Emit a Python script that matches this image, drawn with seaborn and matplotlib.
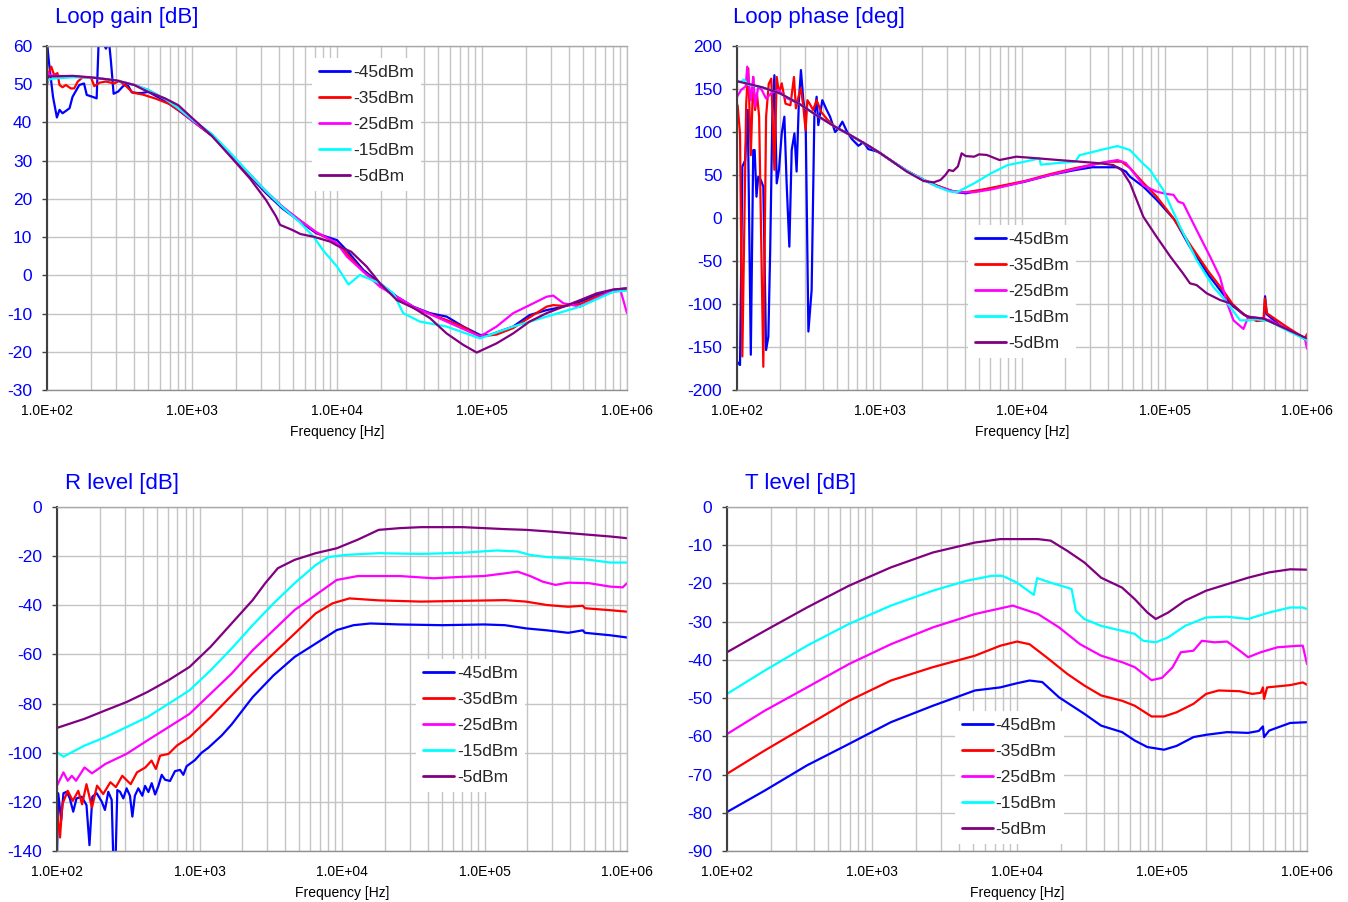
import numpy as np
import matplotlib
matplotlib.use("Agg")
import matplotlib.pyplot as plt
import seaborn as sns
from matplotlib.ticker import FixedLocator, FuncFormatter, LogLocator, NullFormatter

# ---------------- data ----------------
series_labels = ['-45dBm', '-35dBm', '-25dBm', '-15dBm', '-5dBm']
series_colors = ['#0000FF', '#FF0000', '#FF00FF', '#00FFFF', '#800080']
decade_ticks = [1e2, 1e3, 1e4, 1e5, 1e6]

# Loop gain [dB]
gain_f_45 = [100, 103, 110, 117, 122, 128, 143, 150, 167, 180, 188, 206, 220, 227, 242, 255, 268, 276, 288, 310,
             333, 355, 384, 420, 450, 500, 660, 805, 1000, 1370, 1900, 2500, 3240, 4200, 5500, 7200, 10000, 11700,
             15200, 19800, 25900, 33600, 43800, 57000, 74300, 97000, 113000, 164000, 213000, 279000, 364000, 474000,
             620000, 805000, 1000000]
gain_v_45 = [61, 56, 46.7, 41.3, 43.3, 42.4, 43.7, 46.7, 49.8, 50.2, 47.2, 46.7, 46.3, 61, 61, 59.3, 61, 56, 47.5, 48.1,
             49.4, 50.2, 47.9, 47.7, 47.7, 48.0, 45.5, 43.2, 40.5, 36.5, 31, 26, 21.5, 17.5, 14.2, 11.0, 9.2, 6.5,
             1.4, -2.1, -5.6, -8.2, -9.9, -10.8, -13.4, -15.6, -15.6, -13.4, -10.4, -9.1, -8.2, -6.9,
             -5.1, -3.8, -3.4]
gain_f_35 = [100, 103, 107, 112, 118, 122, 128, 135, 146, 154, 163, 176, 201, 212, 230, 255, 291, 315, 351, 390,
             457, 565, 700, 860, 1000, 1370, 1900, 2500, 3240, 4200, 5500, 7200, 10000, 15200, 19800, 25900, 33600,
             57000, 74300, 97000, 126000, 164000, 213000, 279000, 310000, 364000, 474000, 620000, 805000, 1000000]
gain_v_35 = [49.8, 52.9, 54.6, 52.4, 52.9, 49.8, 49.2, 49.8, 48.9, 48.9, 50.7, 51.8, 51.8, 49.5, 50.4, 50.7, 50.2,
             50.9, 49.5, 47.8, 47.3, 46.2, 44.8, 42.5, 40.5, 36.6, 31.2, 26.3, 21.8, 17.8, 14.5, 11.2, 8.4, 1.0, -2.5,
             -6.0, -8.5, -11.7, -13.5, -16.0, -15.5, -13.8, -11.0, -8.2, -7.8, -8.0, -7.5, -5.5, -4.3, -3.5]
gain_f_25 = [100, 105, 150, 200, 300, 400, 500, 660, 805, 1000, 1370, 1900, 2500, 3240, 4200, 5500, 7200, 10000,
             11700, 19800, 33600, 57000, 97000, 126000, 164000, 213000, 279000, 310000, 364000, 474000, 620000,
             805000, 900000, 1000000]
gain_v_25 = [53.5, 52.3, 52.0, 51.8, 51.0, 49.8, 48.5, 46.0, 43.7, 40.5, 36.7, 31.2, 26.5, 22.0, 18.0, 14.5, 11.3, 8.4,
             4.9, -3.0, -8.2, -12.1, -16.0, -13.4, -9.9, -7.8, -5.6, -5.3, -7.3, -8.2, -6.0, -3.8, -3.8, -9.9]
gain_f_15 = [100, 110, 150, 200, 300, 400, 500, 660, 805, 1000, 1370, 1900, 2500, 3240, 4200, 5500, 6900, 8000,
             10000, 12000, 14400, 19800, 24500, 28600, 37300, 57000, 97000, 164000, 279000, 474000, 805000, 1000000]
gain_v_15 = [51.0, 51.5, 51.8, 51.8, 51.0, 49.8, 48.5, 46.0, 43.7, 40.8, 37.0, 31.5, 26.5, 22.0, 17.8, 14.0, 10.1, 6.6,
             2.3, -2.4, 0.1, -2.1, -4.7, -9.9, -12.1, -13.4, -16.5, -13.4, -10.8, -8.2, -4.3, -4.0]
gain_f_5 = [100, 150, 200, 300, 400, 450, 500, 660, 805, 1000, 1370, 1900, 2500, 3240, 3800, 4050, 4900, 5600, 6900,
            9000, 10000, 12500, 16000, 19800, 25900, 33600, 43800, 57000, 74300, 92000, 126000, 164000, 213000,
            279000, 364000, 474000, 620000, 805000, 1000000]
gain_v_5 = [52.0, 52.2, 51.8, 51.0, 49.8, 48.8, 48.0, 46.2, 44.5, 41.2, 36.5, 30.5, 25.4, 19.7, 15.4, 13.2, 11.9, 10.8,
            10.1, 8.8, 7.8, 6.2, 2.3, -2.1, -6.5, -8.5, -11.2, -15.2, -18.2, -20.2, -17.8, -15.2, -12.1, -9.9, -8.2,
            -6.5, -4.7, -3.7, -3.4]

# Loop phase [deg]
phase_f_45 = [100, 105, 109, 114, 119, 125, 130, 133, 137, 141, 147, 153, 160, 166, 171, 177, 183, 190, 197, 206,
              215, 223, 233, 242, 253, 262, 272, 281, 292, 303, 317, 334, 349, 362, 372, 397, 426, 450, 488, 515,
              549, 589, 638, 711, 771, 836, 931, 1000, 1200, 1550, 2000, 2500, 3290, 4030, 5290, 6950, 10450, 15740,
              23660, 31050, 46730, 53550, 57300, 71100, 88200, 118000, 150000, 203000, 265000, 300000, 358000,
              399000, 469000, 500000, 508000, 522000, 648000, 1000000]
phase_v_45 = [-167, -171, 59.7, 67, 125.6, -159, 79, 79, 24.8, 48, 44.2, 36.4, -153.5, -138, -37, 117.8, 166, 40.3,
              56, 98.4, 117.8, 40.3, -33.3, 79, 98.4, 54, 137, 172, 137, 117.8, -132, -83.7, 117.8, 141, 108, 137,
              125.6, 117.8, 100, 104, 112, 101, 92, 84, 88, 80, 78, 76, 67, 55, 45, 38, 30.6, 28.7, 32.6, 36.4,
              42.2, 50, 55.8, 59, 59, 54, 48, 36.4, 21, -2.3, -33, -66, -91, -102, -112, -116, -117, -116, -91, -112,
              -125, -142]
phase_f_35 = [100, 101, 105, 109, 116, 120, 125, 130, 134, 138, 143, 153, 160, 167, 174, 183, 190, 197, 206, 219,
              237, 251, 259, 270, 281, 292, 303, 312, 323, 342, 362, 391, 433, 488, 600, 836, 1000, 1200, 1550, 2000,
              2500, 3290, 4030, 5290, 6950, 10450, 15740, 23660, 31050, 40740, 50000, 57300, 70000, 88000, 115000,
              150000, 203000, 265000, 300000, 358000, 441600, 495000, 506000, 523600, 711000, 966000, 1000000]
phase_v_35 = [131, 131, 98, -161, 133, 174, 73, 164, 125.6, 145, 117.8, -173, 117.8, 156, 162, 56, 164, 145, 156.6,
              133, 131, 164, 127.5, 141, 150.8, 129.5, 102, 137, 133, 125.6, 137, 123, 114, 106, 98, 84, 76, 67, 55,
              45, 38, 31, 30, 33, 37, 43, 51, 58, 62, 65.5, 65.5, 58, 42, 25, 0, -30, -62, -87, -100, -112, -119.8,
              -119, -93.4, -110.8, -126, -140, -135]
phase_f_25 = [100, 107, 115, 118, 125, 130, 134, 141, 149, 160, 174, 195, 219, 272, 350, 488, 600, 836, 1000, 1200,
              1550, 2000, 2500, 3000, 3500, 4600, 6000, 9120, 15740, 23660, 35560, 46730, 53550, 57300, 71100, 88200,
              103700, 115400, 125000, 135500, 168000, 209000, 245000, 273000, 305000, 358000, 388000, 495000, 551000,
              648000, 966000, 1000000]
phase_v_25 = [141, 149, 153, 176, 137, 164, 129.5, 152.7, 149, 139, 145, 149, 140, 133, 121, 106, 98, 84, 76, 67, 55,
              45, 37, 33, 30, 30, 33, 40, 50, 57, 64, 67.4, 64, 58, 38, 30.6, 27.9, 27, 19, 17, -14, -45, -68.6, -97.7,
              -119, -129, -114.7, -117, -119, -125, -140, -152]
phase_f_15 = [100, 105, 112, 120, 130, 150, 200, 272, 350, 488, 600, 836, 1000, 1200, 1550, 2000, 2500, 3070, 3500,
              4613, 6065, 7960, 10450, 13270, 13540, 18030, 23660, 25340, 35560, 46730, 57300, 70310, 79000, 98000,
              128500, 168000, 220000, 273000, 339000, 399000, 441600, 542000, 711000, 1000000]
phase_v_15 = [160, 158, 161, 155, 154, 152, 145, 133, 121, 106, 98, 84, 76, 67, 55, 45, 37, 31, 30, 40.3, 52, 61.6,
              65.5, 69.4, 62, 64, 65.5, 73, 79, 83.7, 79, 63.6, 56, 32.6, -10, -48.8, -80, -97.7, -119, -119, -117.8,
              -120, -130, -142]
phase_f_5 = [100, 120, 150, 200, 272, 350, 488, 600, 836, 1000, 1200, 1550, 2040, 2400, 2680, 2900, 3070, 3290, 3550,
             3770, 4030, 4610, 5000, 5660, 6950, 9120, 12820, 18030, 25340, 35560, 43650, 50000, 57300, 71000, 88000,
             110000, 135000, 151000, 168000, 198000, 245000, 289000, 379000, 495000, 621000, 1000000]
phase_v_5 = [159, 156, 152, 145, 133, 121, 106, 98, 84, 76, 67, 54, 43, 41.5, 44.2, 50, 55.8, 54.6, 60, 75.2, 72,
             71.3, 74, 73.3, 67.4, 71.3, 69.4, 67.4, 65.5, 63.6, 61.6, 55.8, 40.5, 1.5, -21.8, -45, -64.5, -76, -78,
             -87.6, -95.3, -99.2, -114.7, -117, -124.4, -140]

# R level [dB]
r_f_45 = [100, 102, 107, 111, 117, 123, 130, 137, 149, 161, 169, 177, 190, 206, 217, 229, 242, 248, 258, 265, 277,
          292, 308, 325, 338, 352, 372, 397, 415, 438, 462, 488, 515, 543, 573, 621, 673, 730, 770, 812, 929, 1035,
          1153, 1284, 1431, 1680, 2360, 3312, 4656, 6536, 9183, 12050, 15810, 25450, 50240, 99100, 139300, 195500,
          274800, 386400, 489800, 507000, 762000, 1000000]
r_v_45 = [-142, -116.5, -127.4, -116.5, -115.9, -118.6, -124, -118.6, -117.9, -121.3, -137.6, -117.9, -116.5, -119.9,
          -123.3, -115.9, -119.2, -142, -142, -115.2, -115.9, -118.6, -114.5, -117.5, -126, -117.5, -114.5, -117.5,
          -113.5, -116, -112.4, -117, -113.5, -109, -111, -111.5, -107.5, -107, -109, -105.5, -103, -100, -98, -95.5,
          -93, -88.5, -77.4, -68.5, -61, -55.6, -50.1, -48.1, -47.4, -47.8, -48.1, -47.8, -48.1, -49.4, -50.2,
          -51.2, -50.2, -51.2, -52.2, -53.1]
r_f_35 = [100, 105, 109, 119, 129, 141, 150, 161, 176, 191, 211, 237, 259, 287, 329, 364, 417, 461, 494, 529, 606,
          694, 851, 1196, 1680, 2360, 3312, 4656, 6536, 8585, 11270, 18110, 35810, 70630, 139300, 195500, 274800,
          386400, 489800, 507000, 762000, 1000000]
r_v_35 = [-122.3, -134.5, -121, -115.5, -119.6, -115.5, -121, -112.8, -122.3, -113.4, -116.8, -112, -114, -109.4,
          -112.8, -108, -106, -103.2, -106.6, -101.2, -100.5, -97.1, -93.7, -85.5, -76.7, -67.8, -59.6, -51.5, -43.3,
          -39.2, -37.2, -38, -38.5, -38.2, -37.9, -38.5, -39.9, -40.6, -40.2, -41.2, -42, -42.6]
r_f_25 = [100, 111, 119, 127, 136, 156, 176, 218, 307, 431, 606, 851, 1196, 1680, 2360, 3312, 4656, 6536, 9183,
          12900, 25450, 43850, 70630, 99100, 139300, 170600, 209400, 256900, 314900, 386400, 542000, 762000, 933000,
          1000000]
r_v_25 = [-113.4, -108, -111.4, -109.4, -111.4, -106, -108.4, -104.6, -100.5, -95, -89.6, -84.2, -76, -67.8, -58.3,
          -50.1, -41.9, -35.8, -29.7, -28.1, -28.1, -29, -28.4, -28.1, -27, -26.3, -28.1, -30.4, -31.7, -30.8, -31,
          -32.4, -32.7, -31]
r_f_15 = [100, 111, 156, 218, 307, 431, 606, 851, 1196, 1680, 2360, 3312, 4656, 6536, 8013, 10520, 18110, 35810,
          70630, 121600, 170600, 209400, 274800, 386400, 542000, 762000, 1000000]
r_v_15 = [-99.8, -101.6, -97.1, -93.7, -89.6, -85.5, -80.1, -74.6, -66.5, -57.6, -48.1, -39.2, -31, -23.6, -20.4,
          -19.5, -18.8, -19.1, -18.6, -17.7, -18.1, -19.5, -20.4, -20.8, -21.5, -22.6, -22.6]
r_f_5 = [100, 156, 218, 307, 431, 606, 851, 1196, 1680, 2360, 2893, 3548, 4656, 6536, 9183, 12900, 18110, 25450,
         35810, 70630, 99100, 139300, 195500, 274800, 386400, 542000, 762000, 1000000]
r_v_5 = [-89.9, -86.2, -82.8, -79.4, -75.3, -70.5, -65.1, -56.9, -47.4, -37.9, -31, -24.9, -21.5, -18.8, -16.8,
         -13.3, -9.3, -8.6, -8.2, -8.2, -8.6, -9, -9.3, -9.9, -10.6, -11.3, -12, -12.7]

# T level [dB]
t_f_45 = [100, 182, 356, 693, 1350, 2630, 5130, 7660, 10000, 12200, 14930, 19500, 29110, 38020, 53090, 64860, 79250,
          103300, 126200, 164800, 201400, 281200, 392600, 464500, 496600, 505800, 548300, 765600, 1000000]
t_v_45 = [-79.8, -74.2, -67.6, -62, -56.3, -52, -48, -47.2, -46.1, -45.4, -45.8, -49.8, -54.1, -57.2, -58.9, -61.1,
          -62.8, -63.5, -62.5, -60.2, -59.6, -58.9, -59.1, -58.6, -57.4, -60.2, -58.5, -56.5, -56.3]
t_f_35 = [100, 182, 356, 693, 1350, 2630, 5130, 7660, 10000, 12200, 15960, 22280, 29110, 38020, 53090, 64860, 84720,
          103300, 126200, 164800, 201400, 246000, 343600, 419800, 479700, 496600, 505800, 530900, 765600, 935500,
          1000000]
t_v_35 = [-69.8, -63.7, -57.2, -50.7, -45.4, -41.9, -38.9, -36.3, -35.2, -35.9, -39.3, -43.7, -46.7, -49.3, -50.7,
          -52, -54.8, -54.8, -53.7, -51.5, -48.9, -48, -48.2, -48.9, -48.6, -47.2, -50.2, -47.2, -46.6, -45.9, -46.5]
t_f_25 = [100, 182, 356, 693, 1350, 2630, 5130, 9350, 13960, 19500, 27230, 38020, 53090, 64860, 84720, 100000,
          118000, 134900, 164800, 188400, 230100, 281200, 343600, 392600, 479700, 626600, 875000, 935500, 1000000]
t_v_25 = [-59.4, -53.3, -47.2, -41.1, -35.9, -31.5, -28, -25.8, -28, -31.5, -35.9, -38.9, -40.6, -41.9, -45.3, -44.7,
          -42, -38, -37.6, -35, -35.4, -35.2, -37.6, -39.3, -38, -36.7, -36.3, -36.3, -41.1]
t_f_15 = [100, 182, 356, 693, 1350, 2630, 4490, 6700, 7930, 10000, 13060, 13770, 17060, 22280, 23820, 25470, 29110,
          38020, 53090, 64860, 74130, 90570, 110400, 144200, 201400, 281200, 392600, 548300, 765600, 935500, 1000000]
t_v_15 = [-48.9, -42.8, -36.3, -30.6, -25.8, -21.9, -19.3, -18, -18, -19.8, -23, -18.6, -19.8, -21.1, -21.5, -27.2,
          -29.3, -31.1, -32.4, -33.2, -35, -35.4, -34.1, -31.1, -28.9, -28.7, -29.3, -27.6, -26.3, -26.3, -26.7]
t_f_5 = [100, 182, 356, 693, 1350, 2630, 5130, 7660, 13960, 17060, 22280, 29110, 38020, 53090, 64860, 79250, 90570,
         110400, 144200, 201400, 281200, 392600, 548300, 765600, 1000000]
t_v_5 = [-38, -32.4, -26.3, -20.6, -15.8, -11.9, -9.3, -8.4, -8.4, -8.8, -11.5, -14.5, -18.5, -21.1, -24.1, -27.6,
         -29.3, -27.6, -24.5, -21.9, -20.2, -18.5, -17.1, -16.3, -16.4]

# ---------------- figure ----------------
sns.set_theme(style="white")
plt.rcParams['font.family'] = ['Liberation Sans', 'DejaVu Sans']
plt.rcParams['axes.unicode_minus'] = False

W, H = 1348, 902
fig = plt.figure(figsize=(W / 100, H / 100), dpi=100)
fig.patch.set_facecolor('white')

BLUE = '#0000FF'
GRID = '#c4c4c4'


def add_ax(l, t, r, b):
    return fig.add_axes([l / W, 1 - b / H, (r - l) / W, (b - t) / H])


def panel(ax, fs, vs, ylim, yticks, title, title_xy, leg_anchor):
    for f, v, lab, col in zip(fs, vs, series_labels, series_colors):
        sns.lineplot(x=f, y=v, ax=ax, color=col, lw=1.6, label=lab, sort=False,
                     estimator=None, errorbar=None)
    ax.set_xscale('log')
    ax.set_xlim(1e2, 1e6)
    ax.set_ylim(*ylim)
    ax.set_yticks(yticks)
    ax.xaxis.set_major_locator(FixedLocator(decade_ticks))
    ax.xaxis.set_major_formatter(FuncFormatter(lambda val, pos: f"{val:.1E}"))
    ax.xaxis.set_minor_locator(LogLocator(base=10, subs=np.arange(2, 10)))
    ax.xaxis.set_minor_formatter(NullFormatter())
    ax.grid(True, which='major', color=GRID, lw=1)
    ax.grid(True, which='minor', axis='x', color=GRID, lw=1)
    ax.set_axisbelow(True)
    ax.tick_params(axis='x', which='both', length=0, pad=10, labelsize=10, labelcolor='black')
    ax.tick_params(axis='y', which='major', length=3.6, width=1, color='#404040', pad=7,
                   labelsize=12.5, labelcolor=BLUE, left=True)
    ax.set_xlabel('Frequency [Hz]', fontsize=10, labelpad=5, color='black')
    ax.set_ylabel('')
    ax.spines['left'].set_color('#404040')
    ax.spines['left'].set_linewidth(1.5)
    ax.spines['bottom'].set_color('#909090')
    ax.spines['top'].set_color('#a8a8a8')
    ax.spines['right'].set_color('#c0c0c0')
    for s in ['bottom', 'top', 'right']:
        ax.spines[s].set_linewidth(1)
    ax.set_facecolor('white')
    fig.text(title_xy[0] / W, 1 - title_xy[1] / H, title, color=BLUE, fontsize=16,
             ha='left', va='center')
    leg = ax.legend(loc='upper left', bbox_to_anchor=leg_anchor, fontsize=12.5, frameon=True,
                    facecolor='white', edgecolor='none', framealpha=1, fancybox=False,
                    borderpad=0.4, handlelength=1.8, handletextpad=0.15, labelspacing=0.62,
                    borderaxespad=0)
    for line in leg.get_lines():
        line.set_linewidth(2)


ax_gain = add_ax(47, 46, 627, 390)
ax_phase = add_ax(737, 46, 1307, 390)
ax_r = add_ax(57, 507, 627, 851)
ax_t = add_ax(727, 507, 1307, 851)

panel(ax_gain, [gain_f_45, gain_f_35, gain_f_25, gain_f_15, gain_f_5],
      [gain_v_45, gain_v_35, gain_v_25, gain_v_15, gain_v_5],
      (-30, 60), list(range(-30, 61, 10)), 'Loop gain [dB]', (55, 17), (0.457, 0.965))
panel(ax_phase, [phase_f_45, phase_f_35, phase_f_25, phase_f_15, phase_f_5],
      [phase_v_45, phase_v_35, phase_v_25, phase_v_15, phase_v_5],
      (-200, 200), list(range(-200, 201, 50)), 'Loop phase [deg]', (733, 17), (0.405, 0.48))
panel(ax_r, [r_f_45, r_f_35, r_f_25, r_f_15, r_f_5],
      [r_v_45, r_v_35, r_v_25, r_v_15, r_v_5],
      (-140, 0), list(range(-140, 1, 20)), 'R level [dB]', (65, 483), (0.63, 0.558))
panel(ax_t, [t_f_45, t_f_35, t_f_25, t_f_15, t_f_5],
      [t_v_45, t_v_35, t_v_25, t_v_15, t_v_5],
      (-90, 0), list(range(-90, 1, 10)), 'T level [dB]', (745, 483), (0.393, 0.407))

fig.savefig('out.png', dpi=100, facecolor='white')
